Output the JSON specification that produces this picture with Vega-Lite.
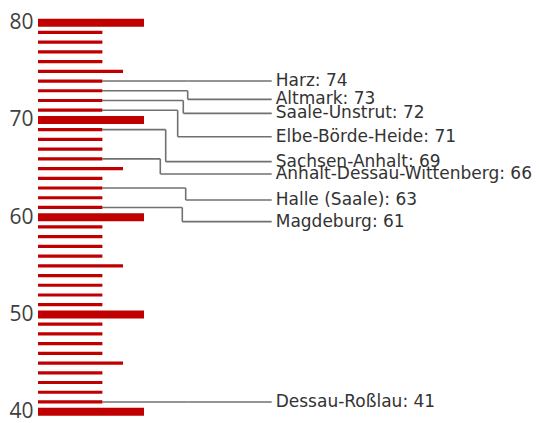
{
  "$schema": "https://vega.github.io/schema/vega-lite/v6.json",
  "width": 501,
  "height": 423,
  "autosize": "none",
  "padding": {"left": 38, "top": 0, "right": 0, "bottom": 0},
  "background": "white",
  "config": {"view": {"stroke": null}},
  "datasets": {
    "ticks": [
      {"v": 40, "kind": "major"}, {"v": 41, "kind": "minor"}, {"v": 42, "kind": "minor"}, {"v": 43, "kind": "minor"}, {"v": 44, "kind": "minor"},
      {"v": 45, "kind": "mid"}, {"v": 46, "kind": "minor"}, {"v": 47, "kind": "minor"}, {"v": 48, "kind": "minor"}, {"v": 49, "kind": "minor"},
      {"v": 50, "kind": "major"}, {"v": 51, "kind": "minor"}, {"v": 52, "kind": "minor"}, {"v": 53, "kind": "minor"}, {"v": 54, "kind": "minor"},
      {"v": 55, "kind": "mid"}, {"v": 56, "kind": "minor"}, {"v": 57, "kind": "minor"}, {"v": 58, "kind": "minor"}, {"v": 59, "kind": "minor"},
      {"v": 60, "kind": "major"}, {"v": 61, "kind": "minor"}, {"v": 62, "kind": "minor"}, {"v": 63, "kind": "minor"}, {"v": 64, "kind": "minor"},
      {"v": 65, "kind": "mid"}, {"v": 66, "kind": "minor"}, {"v": 67, "kind": "minor"}, {"v": 68, "kind": "minor"}, {"v": 69, "kind": "minor"},
      {"v": 70, "kind": "major"}, {"v": 71, "kind": "minor"}, {"v": 72, "kind": "minor"}, {"v": 73, "kind": "minor"}, {"v": 74, "kind": "minor"},
      {"v": 75, "kind": "mid"}, {"v": 76, "kind": "minor"}, {"v": 77, "kind": "minor"}, {"v": 78, "kind": "minor"}, {"v": 79, "kind": "minor"},
      {"v": 80, "kind": "major"}
    ],
    "labels": [
      {"label": "Harz: 74", "value": 74, "labelPos": 74, "elbow": 30},
      {"label": "Altmark: 73", "value": 73, "labelPos": 72.12, "elbow": 29.88},
      {"label": "Saale-Unstrut: 72", "value": 72, "labelPos": 70.68, "elbow": 29.0},
      {"label": "Elbe-Börde-Heide: 71", "value": 71, "labelPos": 68.28, "elbow": 27.88},
      {"label": "Sachsen-Anhalt: 69", "value": 69, "labelPos": 65.71, "elbow": 25.49},
      {"label": "Anhalt-Dessau-Wittenberg: 66", "value": 66, "labelPos": 64.44, "elbow": 24.41},
      {"label": "Halle (Saale): 63", "value": 63, "labelPos": 61.77, "elbow": 29.48},
      {"label": "Magdeburg: 61", "value": 61, "labelPos": 59.54, "elbow": 28.8},
      {"label": "Dessau-Roßlau: 41", "value": 41, "labelPos": 41, "elbow": 30}
    ]
  },
  "layer": [
    {
      "data": {"name": "labels"},
      "mark": {"type": "rule", "color": "#707070", "strokeWidth": 1.6},
      "encoding": {
        "x": {"field": "elbow", "type": "quantitative", "scale": {"domain": [0, 100], "nice": false, "zero": false}, "axis": null},
        "x2": {"datum": 12.85},
        "y": {"field": "value", "type": "quantitative",
              "scale": {"domain": [38.838, 82.334], "nice": false, "zero": false},
              "axis": {"values": [40, 50, 60, 70, 80], "domain": false, "ticks": false, "grid": false, "title": null,
                       "labelFont": "Open Sans", "labelFontSize": 21, "labelColor": "#404040", "labelPadding": 5}}
      }
    },
    {
      "data": {"name": "labels"},
      "mark": {"type": "rule", "color": "#707070", "strokeWidth": 1.6},
      "encoding": {
        "x": {"field": "elbow", "type": "quantitative"},
        "y": {"field": "value", "type": "quantitative"},
        "y2": {"field": "labelPos"}
      }
    },
    {
      "data": {"name": "labels"},
      "mark": {"type": "rule", "color": "#707070", "strokeWidth": 1.6},
      "encoding": {
        "x": {"field": "elbow", "type": "quantitative"},
        "x2": {"datum": 46.65},
        "y": {"field": "labelPos", "type": "quantitative"}
      }
    },
    {
      "data": {"name": "ticks"},
      "transform": [{"filter": "datum.kind === 'major'"}],
      "mark": {"type": "rule", "color": "#C00000", "strokeWidth": 8},
      "encoding": {
        "x": {"datum": 0, "type": "quantitative"},
        "x2": {"datum": 21.16},
        "y": {"field": "v", "type": "quantitative"}
      }
    },
    {
      "data": {"name": "ticks"},
      "transform": [{"filter": "datum.kind === 'mid'"}],
      "mark": {"type": "rule", "color": "#C00000", "strokeWidth": 3.2},
      "encoding": {
        "x": {"datum": 0, "type": "quantitative"},
        "x2": {"datum": 16.97},
        "y": {"field": "v", "type": "quantitative"}
      }
    },
    {
      "data": {"name": "ticks"},
      "transform": [{"filter": "datum.kind === 'minor'"}],
      "mark": {"type": "rule", "color": "#C00000", "strokeWidth": 3.2},
      "encoding": {
        "x": {"datum": 0, "type": "quantitative"},
        "x2": {"datum": 12.85},
        "y": {"field": "v", "type": "quantitative"}
      }
    },
    {
      "data": {"name": "labels"},
      "mark": {"type": "text", "align": "left", "baseline": "middle", "font": "DejaVu Sans", "fontSize": 17, "color": "#333333", "dx": 4},
      "encoding": {
        "x": {"datum": 46.65, "type": "quantitative"},
        "y": {"field": "labelPos", "type": "quantitative"},
        "text": {"field": "label", "type": "nominal"}
      }
    }
  ]
}
